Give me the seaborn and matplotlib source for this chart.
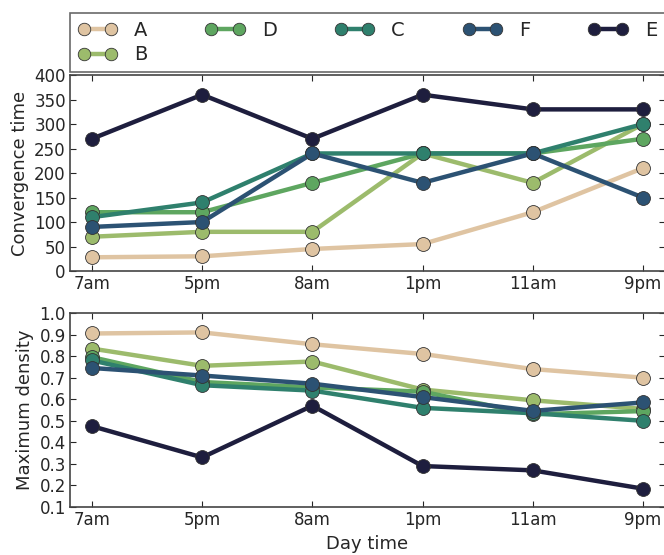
import numpy as np
import pandas as pd
import seaborn as sns
import matplotlib
matplotlib.use("Agg")
import matplotlib.pyplot as plt

# horas del dia (eje x) y series
times = ["7am", "5pm", "8am", "1pm", "11am", "9pm"]
series = ["A", "B", "D", "C", "F", "E"]
colors = ["#dfc4a2", "#9cbb6c", "#5ea660", "#2f806d", "#2c5273", "#1e1e3e"]

conv_A = [28, 30, 45, 55, 120, 210]
conv_B = [70, 80, 80, 240, 180, 300]
conv_D = [120, 120, 180, 240, 240, 270]
conv_C = [110, 140, 240, 240, 240, 300]
conv_F = [90, 100, 240, 180, 240, 150]
conv_E = [270, 360, 270, 360, 330, 330]

dens_A = [0.905, 0.91, 0.855, 0.81, 0.74, 0.70]
dens_B = [0.835, 0.755, 0.775, 0.645, 0.595, 0.555]
dens_D = [0.795, 0.68, 0.655, 0.635, 0.53, 0.545]
dens_C = [0.78, 0.665, 0.64, 0.56, 0.535, 0.50]
dens_F = [0.745, 0.71, 0.672, 0.61, 0.546, 0.585]
dens_E = [0.475, 0.33, 0.57, 0.29, 0.27, 0.185]

conv = {"A": conv_A, "B": conv_B, "D": conv_D, "C": conv_C, "F": conv_F, "E": conv_E}
dens = {"A": dens_A, "B": dens_B, "D": dens_D, "C": dens_C, "F": dens_F, "E": dens_E}

rows = []
for s in series:
    for i, t in enumerate(times):
        rows.append({"pos": i, "serie": s, "conv": conv[s][i], "dens": dens[s][i]})
df = pd.DataFrame(rows)

sns.set_style("white")
plt.rcParams["font.family"] = ["DejaVu Sans"]
plt.rcParams.update({
    "xtick.direction": "in", "ytick.direction": "in",
    "xtick.top": True, "ytick.right": True,
    "xtick.major.size": 4, "ytick.major.size": 4,
    "xtick.bottom": True, "ytick.left": True,
    "axes.edgecolor": "#444444", "axes.linewidth": 1.2,
})

fig = plt.figure(figsize=(6.64, 5.55), dpi=100)
ax1 = fig.add_axes([0.1054, 0.5117, 0.896, 0.353])
ax2 = fig.add_axes([0.1054, 0.0865, 0.896, 0.3495])

palette = dict(zip(series, colors))
kw = dict(x="pos", hue="serie", hue_order=series, palette=palette, marker="o",
          markersize=10, linewidth=3.2, markeredgecolor="#333333",
          markeredgewidth=0.6, sort=False)

sns.lineplot(data=df, y="conv", ax=ax1, **kw)
sns.lineplot(data=df, y="dens", ax=ax2, legend=False, **kw)

for ax in (ax1, ax2):
    ax.set_xlim(-0.2, 5.2)
    ax.set_xticks(range(len(times)))
    ax.set_xticklabels(times)
    ax.tick_params(labelsize=12, pad=3)

ax1.set_ylim(0, 400)
ax1.set_yticks(np.arange(0, 401, 50))
ax1.set_xlabel("")
ax1.set_ylabel("Convergence time", fontsize=13)

ax2.set_ylim(0.1, 1.0)
ax2.set_yticks(np.arange(0.1, 1.01, 0.1))
ax2.set_yticklabels([f"{v:.1f}" for v in np.arange(0.1, 1.01, 0.1)])
ax2.set_xlabel("Day time", fontsize=13)
ax2.set_ylabel("Maximum density", fontsize=13)

handles, labels = ax1.get_legend_handles_labels()
ax1.get_legend().remove()
leg = ax1.legend(handles, labels, ncol=5, loc="lower left", mode="expand",
                 bbox_to_anchor=(0, 1.015, 1, 0.2), fontsize=14, fancybox=False,
                 frameon=True, borderaxespad=0, handlelength=2.0, markerscale=0.9,
                 numpoints=2, handletextpad=0.9, columnspacing=1.0, labelspacing=0.3)
leg.get_frame().set_edgecolor("#444444")
leg.get_frame().set_linewidth(1.2)

fig.savefig("out.png", dpi=100)
